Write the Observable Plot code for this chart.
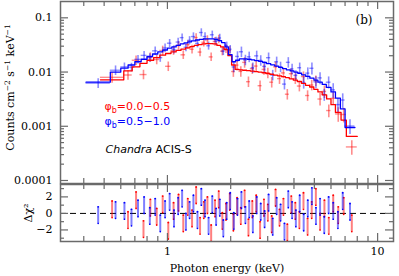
<!DOCTYPE html>
<html><head><meta charset="utf-8">
<script src="https://cdn.jsdelivr.net/npm/d3@7"></script>
<script src="https://cdn.jsdelivr.net/npm/@observablehq/plot@0.6"></script>
<style>
html,body{margin:0;padding:0;background:#fff;}
#chart{position:relative;width:399px;height:276px;overflow:hidden;}
#chart svg{position:absolute;left:0;background:transparent;}
</style></head><body><div id="chart"></div>
<script>
// ---- data: phase 0.5-1.0 (blue) ----
const blueEdges = [0.41,0.535,0.6,0.65,0.7,0.75,0.8,0.85,0.9,0.95,1.0,1.05,1.1,1.15,1.2,1.25,1.3,1.36,1.42,1.48,1.54,1.6,1.67,1.74,1.81,1.88,1.95,2.03,2.11,2.2,2.3,2.4,2.5,2.6,2.72,2.84,2.96,3.1,3.24,3.38,3.53,3.68,3.84,4.0,4.17,4.35,4.55,4.76,4.98,5.2,5.45,5.7,6.0,6.3,6.65,7.0,7.8];
const blueModel = [0.0065,0.0100,0.0118,0.0135,0.0155,0.0172,0.0195,0.0215,0.0235,0.0255,0.0275,0.029,0.031,0.033,0.0345,0.036,0.0375,0.039,0.040,0.041,0.041,0.041,0.040,0.038,0.035,0.029,0.021,0.0155,0.0165,0.0175,0.0175,0.0172,0.0168,0.0163,0.0157,0.0150,0.0143,0.0136,0.0129,0.0122,0.0116,0.0110,0.0105,0.0100,0.0095,0.0089,0.0083,0.0077,0.0071,0.0065,0.0059,0.0052,0.0043,0.0033,0.0021,0.00095];
const blueFlux = [0.00624,0.0108,0.01244,0.01229,0.01717,0.0203,0.01845,0.0246,0.01842,0.0278,0.03405,0.02604,0.03574,0.0431,0.02864,0.03845,0.04515,0.0337,0.0536,0.04518,0.03055,0.04867,0.03728,0.04252,0.02429,0.03048,0.02636,0.01243,0.0194,0.02366,0.01673,0.01909,0.012,0.01989,0.01639,0.01269,0.01839,0.00881,0.01545,0.01247,0.00599,0.01511,0.01142,0.00868,0.01201,0.00645,0.00955,0.01174,0.00657,0.0078,0.00384,0.0065,0.00469,0.00251,0.00305,0.00101];
const blueRelErr = [0.2,0.2,0.18,0.18,0.18,0.18,0.18,0.18,0.18,0.18,0.17,0.17,0.17,0.17,0.17,0.17,0.17,0.17,0.17,0.17,0.17,0.17,0.17,0.17,0.17,0.17,0.17,0.22,0.22,0.22,0.22,0.22,0.22,0.22,0.22,0.22,0.22,0.22,0.22,0.22,0.22,0.22,0.22,0.22,0.22,0.25,0.25,0.25,0.25,0.25,0.25,0.25,0.3,0.3,0.3,0.3];
const blueResid = [-0.2,0.4,0.3,-0.5,0.6,1.0,-0.3,0.8,-1.2,0.5,1.4,-0.6,0.9,1.8,-1.0,0.4,1.2,-0.8,2.0,0.6,-1.5,1.1,-0.4,0.7,-1.8,0.3,1.5,-0.9,0.8,1.6,-0.2,0.5,-1.3,1.0,0.2,-0.7,1.3,-1.6,0.9,0.1,-2.2,1.7,0.4,-0.6,1.2,-1.1,0.6,2.1,-0.3,0.8,-1.4,1.0,0.3,-0.8,1.5,0.2];

// ---- data: phase 0.0-0.5 (red) ----
const redEdges = [0.48,0.62,0.68,0.74,0.8,0.86,0.92,0.98,1.04,1.1,1.16,1.22,1.28,1.34,1.4,1.46,1.52,1.58,1.65,1.72,1.79,1.86,1.94,2.02,2.1,2.19,2.28,2.38,2.48,2.59,2.7,2.82,2.94,3.07,3.2,3.34,3.49,3.64,3.8,3.97,4.15,4.34,4.54,4.75,4.97,5.2,5.45,5.72,6.0,6.3,6.7,7.1,8.0];
const redModel = [0.0072,0.0105,0.0125,0.0145,0.0165,0.0185,0.0205,0.022,0.0235,0.025,0.0265,0.028,0.0295,0.031,0.032,0.033,0.0335,0.0335,0.033,0.031,0.029,0.026,0.020,0.0135,0.0112,0.0110,0.0108,0.0106,0.0104,0.0102,0.0100,0.0097,0.0094,0.0091,0.0088,0.0085,0.0082,0.0079,0.0075,0.0071,0.0067,0.0062,0.0057,0.0053,0.0048,0.0043,0.0038,0.0032,0.0025,0.0018,0.0013,0.00065];
const redFlux = [0.00799,0.00882,0.0165,0.00899,0.01881,0.01702,0.02501,0.01276,0.02477,0.03085,0.02078,0.03203,0.02631,0.04328,0.02336,0.03538,0.03953,0.01903,0.03656,0.04049,0.0243,0.02694,0.02504,0.01023,0.01342,0.01027,0.01508,0.00664,0.01154,0.01289,0.0056,0.01119,0.00961,0.0065,0.01248,0.00757,0.00964,0.0039,0.00932,0.00757,0.00552,0.00825,0.00369,0.00577,0.00691,0.00318,0.00439,0.00195,0.00328,0.00169,0.00165,0.000416];
const redRelErr = [0.22,0.2,0.2,0.2,0.2,0.2,0.2,0.2,0.18,0.18,0.18,0.18,0.18,0.18,0.18,0.18,0.18,0.18,0.18,0.18,0.18,0.18,0.18,0.22,0.22,0.22,0.22,0.22,0.22,0.22,0.22,0.22,0.22,0.22,0.22,0.22,0.22,0.22,0.22,0.22,0.22,0.22,0.22,0.22,0.22,0.26,0.26,0.26,0.26,0.3,0.3,0.3];
const redResid = [0.5,-0.8,1.6,-1.9,0.7,-0.4,1.1,-2.1,0.3,1.3,-1.2,0.8,-0.6,2.2,-1.5,0.4,1.0,-2.4,0.6,1.7,-0.9,0.2,1.4,-1.1,0.9,-0.3,1.8,-1.7,0.5,1.2,-2.0,0.7,0.1,-1.3,1.9,-0.5,0.8,-2.3,1.1,0.3,-0.8,1.5,-1.6,0.4,2.0,-1.0,0.6,-1.5,1.2,-0.2,0.9,-1.2];

// ---- labels / ticks ----
const xTickLabels = [1, 10];
const yTopTickLabels = [0.1, 0.01, 0.001, 0.0001];
const yBotTickLabels = [-2, 0, 2];
const legendRed = "φb=0.0−0.5";
const legendBlue = "φb=0.5−1.0";
const instrument = "Chandra ACIS-S";
const panelTag = "(b)";
const xLabel = "Photon energy (keV)";
const yTopLabel = "Counts cm-2 s-1 keV-1";
const yBotLabel = "Δχ²";

function makeBins(edges, model, flux, relErr, resid) {
  return model.map((m, i) => ({lo: edges[i], hi: edges[i+1], c: Math.sqrt(edges[i]*edges[i+1]), m, f: flux[i], e: relErr[i], r: resid[i]}));
}
function steps(bins) {
  const out = [];
  bins.forEach(b => { out.push({x: b.lo, y: b.m}); out.push({x: b.hi, y: b.m}); });
  return out;
}
const blue = makeBins(blueEdges, blueModel, blueFlux, blueRelErr, blueResid);
const red = makeBins(redEdges, redModel, redFlux, redRelErr, redResid);

const RED = "#ff0000", BLUE = "#0000ff", FRAME = "#6a6a6a";
const W = 399, ML = 60, MR = 6;
const xDomain = [0.31, 11.9];
const xMinor = [0.4,0.5,0.6,0.7,0.8,0.9,2,3,4,5,6,7,8,9];
const xMajor = [1, 10];
const yMinorTop = [];
[1e-4, 1e-3, 1e-2, 1e-1].forEach(d => { for (let k = 2; k <= 9; k++) { const v = k*d; if (v < 0.2) yMinorTop.push(v); } });
const TOP_H = 184, TOP_PH = 182, PW = W - ML - MR;
const BOT_H = 93, BOT_PH = 57;

function xTicks(ph) {
  return [
    Plot.tickX(xMinor, {stroke: FRAME, strokeWidth: 1.2, insetBottom: ph - 5}),
    Plot.tickX(xMinor, {stroke: FRAME, strokeWidth: 1.2, insetTop: ph - 5}),
    Plot.tickX(xMajor, {stroke: FRAME, strokeWidth: 1.2, insetBottom: ph - 8}),
    Plot.tickX(xMajor, {stroke: FRAME, strokeWidth: 1.2, insetTop: ph - 8})
  ];
}
function yTicks(minor, major) {
  return [
    Plot.tickY(minor, {stroke: FRAME, strokeWidth: 1.2, insetRight: PW - 4}),
    Plot.tickY(minor, {stroke: FRAME, strokeWidth: 1.2, insetLeft: PW - 4}),
    Plot.tickY(major, {stroke: FRAME, strokeWidth: 1.2, insetRight: PW - 8}),
    Plot.tickY(major, {stroke: FRAME, strokeWidth: 1.2, insetLeft: PW - 8})
  ];
}
function crosses(bins, color) {
  return [
    Plot.ruleY(bins, {y: "f", x1: "lo", x2: "hi", stroke: color, strokeOpacity: 0.45, strokeWidth: 1.4}),
    Plot.ruleX(bins, {x: "c", y1: d => d.f*(1-d.e), y2: d => d.f*(1+d.e), stroke: color, strokeOpacity: 0.45, strokeWidth: 1.6})
  ];
}
const txt = (s, o) => Plot.text([s], {textAnchor: "middle", lineAnchor: "middle", ...o});

const topPlot = Plot.plot({
  width: W, height: TOP_H, marginLeft: ML, marginRight: MR, marginTop: 1, marginBottom: 1,
  x: {type: "log", domain: xDomain, axis: null},
  y: {type: "log", domain: [8.8e-5, 0.2], axis: null},
  style: {fontFamily: "DejaVu Serif", fontSize: "11px", background: "transparent", overflow: "visible", color: "#000"},
  marks: [
    ...crosses(red, RED),
    ...crosses(blue, BLUE),
    Plot.line(steps(red), {x: "x", y: "y", stroke: RED, strokeWidth: 1.3}),
    Plot.line(steps(blue), {x: "x", y: "y", stroke: BLUE, strokeWidth: 1.3}),
    ...xTicks(TOP_PH),
    ...yTicks(yMinorTop, yTopTickLabels),
    Plot.frame({stroke: FRAME, strokeWidth: 1.5}),
    Plot.axisY(yTopTickLabels, {anchor: "left", tickSize: 0, tickPadding: 8, tickFormat: d => String(d), label: null, fontSize: 11}),
    txt(yTopLabel, {frameAnchor: "left", rotate: -90, dx: -50, dy: -5, fontSize: 11}),
    txt(legendRed, {frameAnchor: "top-left", textAnchor: "start", dx: 44, dy: 105, fill: RED, fontFamily: "DejaVu Sans", fontSize: 11}),
    txt(legendBlue, {frameAnchor: "top-left", textAnchor: "start", dx: 44, dy: 120, fill: BLUE, fontFamily: "DejaVu Sans", fontSize: 11}),
    txt(instrument, {frameAnchor: "top-left", textAnchor: "start", dx: 45, dy: 148, fill: "#000", fontFamily: "DejaVu Sans", fontSize: 11}),
    txt(panelTag, {frameAnchor: "top-right", textAnchor: "end", dx: -21, dy: 19, fontSize: 12})
  ]
});

const botPlot = Plot.plot({
  width: W, height: BOT_H, marginLeft: ML, marginRight: MR, marginTop: 1, marginBottom: 35,
  x: {type: "log", domain: xDomain, axis: null},
  y: {domain: [-3.4, 3.5], axis: null},
  style: {fontFamily: "DejaVu Serif", fontSize: "11px", background: "transparent", overflow: "visible", color: "#000"},
  marks: [
    Plot.ruleY([0], {stroke: "#000", strokeDasharray: "6,4", strokeWidth: 1}),
    Plot.ruleX(red, {x: "c", y1: d => d.r - 1, y2: d => d.r + 1, stroke: RED, strokeOpacity: 0.5, strokeWidth: 2, clip: true}),
    Plot.dot(red, {x: "c", y: d => d.r + 1, r: 0.9, fill: RED, clip: true}),
    Plot.dot(red, {x: "c", y: d => d.r - 1, r: 0.9, fill: RED, clip: true}),
    Plot.ruleX(blue, {x: "c", y1: d => d.r - 1, y2: d => d.r + 1, stroke: BLUE, strokeOpacity: 0.5, strokeWidth: 2, clip: true}),
    Plot.dot(blue, {x: "c", y: d => d.r + 1, r: 0.9, fill: BLUE, clip: true}),
    Plot.dot(blue, {x: "c", y: d => d.r - 1, r: 0.9, fill: BLUE, clip: true}),
    ...xTicks(BOT_PH),
    ...yTicks([-3, -1, 1, 3], yBotTickLabels),
    Plot.frame({stroke: FRAME, strokeWidth: 1.5}),
    Plot.axisY(yBotTickLabels, {anchor: "left", tickSize: 0, tickPadding: 8, tickFormat: d => d < 0 ? "−" + (-d) : String(d), label: null, fontSize: 11}),
    Plot.axisX(xTickLabels, {anchor: "bottom", tickSize: 0, tickPadding: 6, tickFormat: d => String(d), label: null, fontSize: 11}),
    txt(yBotLabel, {frameAnchor: "left", rotate: -90, dx: -32, fontSize: 11}),
    txt(xLabel, {frameAnchor: "bottom", dy: 27, fontSize: 11})
  ]
});

topPlot.style.top = "0px";
botPlot.style.top = "183px";
const chart = document.getElementById("chart");
chart.appendChild(topPlot);
chart.appendChild(botPlot);

// rich text: subscripts, superscripts and italics
d3.select(topPlot).selectAll("text").each(function() {
  const t = this.textContent;
  const s = d3.select(this);
  if (t === legendRed || t === legendBlue) {
    const rest = t.slice(2);
    this.textContent = "";
    s.append("tspan").text("φ");
    s.append("tspan").attr("dy", "3").attr("font-size", "8").text("b");
    s.append("tspan").attr("dy", "-3").text(rest);
  } else if (t === instrument) {
    this.textContent = "";
    s.append("tspan").attr("font-style", "italic").text("Chandra");
    s.append("tspan").text(" ACIS-S");
  } else if (t === yTopLabel) {
    this.textContent = "";
    const parts = [["Counts cm", 0], ["−2", 1], [" s", 0], ["−1", 1], [" keV", 0], ["−1", 1]];
    let prevSup = false;
    parts.forEach(([p, sup]) => {
      const ts = s.append("tspan").text(p);
      if (sup) { ts.attr("font-size", "7.5").attr("dy", prevSup ? "0" : "-4"); prevSup = true; }
      else { if (prevSup) ts.attr("dy", "4"); prevSup = false; }
    });
  }
});
</script></body></html>
